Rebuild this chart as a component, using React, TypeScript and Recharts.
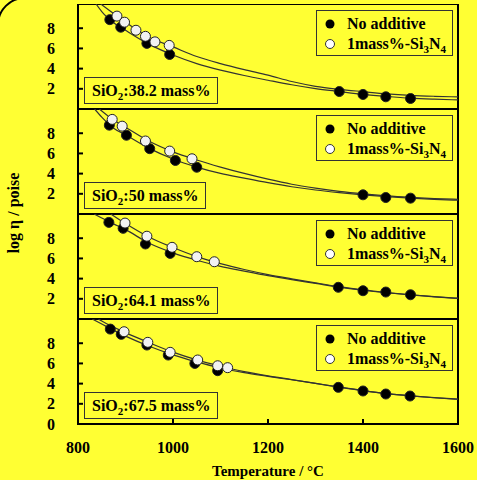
import { ComposedChart, Line, Scatter, XAxis, YAxis, ReferenceArea } from 'recharts';

// measured points: [temperature °C, log viscosity]
const p1NoAdditive = [[867, 8.85], [890, 8.1], [945, 6.5], [993, 5.4], [1350, 1.73], [1400, 1.44], [1448, 1.21], [1500, 1.04]];
const p1Si3N4 = [[882, 9.2], [898, 8.6], [922, 7.8], [942, 7.2], [962, 6.65], [992, 6.3]];
const p1CurveNo = [[838, 10.4], [850, 9.65], [875, 8.55], [900, 7.8], [950, 6.4], [1000, 5.35], [1050, 4.5], [1100, 3.85], [1150, 3.32], [1200, 2.85], [1250, 2.4], [1300, 2.02], [1350, 1.73], [1400, 1.45], [1450, 1.24], [1500, 1.07], [1550, 0.97], [1600, 0.9]];
const p1CurveSi = [[848, 10.4], [875, 9.45], [900, 8.6], [950, 7.1], [1000, 6.15], [1050, 5.2], [1100, 4.5], [1150, 3.9], [1200, 3.35], [1250, 2.72], [1300, 2.25], [1350, 1.95], [1400, 1.72], [1450, 1.5], [1500, 1.35], [1550, 1.26], [1600, 1.2]];

const p2NoAdditive = [[866, 8.8], [902, 7.8], [951, 6.47], [1005, 5.3], [1050, 4.63], [1400, 1.9], [1448, 1.63], [1500, 1.57]];
const p2Si3N4 = [[872, 9.37], [893, 8.7], [942, 7.23], [993, 6.23], [1040, 5.47]];
const p2CurveNo = [[835, 10.4], [850, 9.6], [875, 8.5], [900, 7.85], [950, 6.5], [1000, 5.45], [1050, 4.65], [1100, 4.02], [1150, 3.55], [1200, 3.1], [1250, 2.7], [1300, 2.38], [1350, 2.12], [1400, 1.9], [1450, 1.72], [1500, 1.57], [1550, 1.45], [1600, 1.36]];
const p2CurveSi = [[845, 10.4], [875, 9.3], [900, 8.6], [950, 7.2], [1000, 6.15], [1050, 5.35], [1100, 4.65], [1150, 4.02], [1200, 3.45], [1250, 2.95], [1300, 2.57], [1350, 2.25], [1400, 2.0], [1450, 1.8], [1500, 1.65], [1550, 1.53], [1600, 1.45]];

const p3NoAdditive = [[865, 9.57], [895, 8.98], [942, 7.43], [994, 6.5], [1348, 3.14], [1400, 2.8], [1448, 2.67], [1500, 2.4]];
const p3Si3N4 = [[899, 9.5], [945, 8.2], [998, 7.1], [1050, 6.17], [1087, 5.67]];
const p3CurveNo = [[834, 10.4], [850, 10.0], [875, 9.42], [900, 8.85], [950, 7.5], [1000, 6.55], [1050, 5.82], [1100, 5.22], [1150, 4.75], [1200, 4.3], [1250, 3.9], [1300, 3.53], [1350, 3.15], [1400, 2.85], [1450, 2.6], [1500, 2.38], [1550, 2.2], [1600, 2.04]];
const p3CurveSi = [[869, 10.4], [900, 9.45], [950, 8.1], [1000, 7.08], [1050, 6.18], [1100, 5.48], [1150, 4.9], [1200, 4.4], [1250, 3.98], [1300, 3.58], [1350, 3.2], [1400, 2.88], [1450, 2.62], [1500, 2.4], [1550, 2.21], [1600, 2.06]];

const p4NoAdditive = [[868, 9.4], [891, 8.88], [945, 7.82], [990, 6.83], [1046, 6.0], [1094, 5.28], [1348, 3.63], [1400, 3.27], [1448, 2.97], [1499, 2.77]];
const p4Si3N4 = [[897, 9.14], [947, 8.09], [994, 7.1], [1052, 6.34], [1094, 5.77], [1115, 5.58]];
const p4CurveNo = [[830, 10.4], [850, 9.9], [900, 8.7], [950, 7.7], [1000, 6.85], [1050, 6.15], [1100, 5.55], [1150, 5.08], [1200, 4.72], [1250, 4.38], [1300, 4.02], [1350, 3.65], [1400, 3.3], [1450, 3.0], [1500, 2.78], [1550, 2.6], [1600, 2.45]];
const p4CurveSi = [[843, 10.4], [850, 10.2], [900, 9.05], [950, 8.05], [1000, 7.12], [1050, 6.35], [1100, 5.72], [1150, 5.18], [1200, 4.76], [1250, 4.4], [1300, 4.03], [1350, 3.66], [1400, 3.31], [1450, 3.01], [1500, 2.79], [1550, 2.61], [1600, 2.46]];

const sio2Labels = ['38.2', '50', '64.1', '67.5'];
const xTicks = [800, 1000, 1200, 1400, 1600];
const yTicks = [2, 4, 6, 8];
const yTicksBottom = [0, 2, 4, 6, 8];

const FONT = '"Liberation Serif", "Times New Roman", serif';
const BG = '#ffff33';
const PANEL_H = 105;
const PANEL_TOPS = [4, 109, 214, 319];

const toPts = (arr: number[][]) => arr.map(([t, v]) => ({ t, v }));

const YTick = (props: any) => {
  const { x, y, payload } = props;
  return (
    <g>
      <line x1={x} x2={x + 5} y1={y} y2={y} stroke="#000" strokeWidth={2} />
      <text x={x - 23} y={y} dy="0.35em" textAnchor="end" fontFamily={FONT} fontWeight="bold" fontSize={16} fill="#000">
        {payload.value}
      </text>
    </g>
  );
};

const XTick = (props: any) => {
  const { x, y, payload } = props;
  const inner = payload.value > 800 && payload.value < 1600;
  return (
    <g>
      {inner && <line x1={x} x2={x} y1={y} y2={y - 5} stroke="#000" strokeWidth={2} />}
      <text x={x} y={y + 29} textAnchor="middle" fontFamily={FONT} fontWeight="bold" fontSize={16} fill="#000">
        {payload.value}
      </text>
    </g>
  );
};

const Dot = ({ cx, cy, fill }: any) => (
  <circle cx={cx} cy={cy} r={5} fill={fill} stroke="#222" strokeWidth={1} />
);

const LegendBox = () => (
  <div style={{
    position: 'absolute', left: 316, top: 6,
    border: '1px solid #333', width: 137, height: 46, paddingTop: 3, boxSizing: 'border-box',
    fontFamily: FONT, fontWeight: 'bold', fontSize: 16, lineHeight: '20px', color: '#000',
  }}>
    <div style={{ display: 'flex', alignItems: 'center', height: 20 }}>
      <svg width={30} height={20}><circle cx={13} cy={10} r={4.5} fill="#000" /></svg>
      <span>No additive</span>
    </div>
    <div style={{ display: 'flex', alignItems: 'center', height: 20 }}>
      <svg width={30} height={20}><circle cx={13} cy={10} r={4.5} fill="#fff" stroke="#333" strokeWidth={1} /></svg>
      <span style={{ lineHeight: '20px' }}>1mass%-Si<sub style={{ fontSize: 11, lineHeight: 0 }}>3</sub>N<sub style={{ fontSize: 11, lineHeight: 0 }}>4</sub></span>
    </div>
  </div>
);

interface PanelProps {
  top: number;
  sio2: string;
  noAdd: number[][];
  si3n4: number[][];
  curveNo: number[][];
  curveSi: number[][];
  bottom?: boolean;
}

const Panel = ({ top, sio2, noAdd, si3n4, curveNo, curveSi, bottom }: PanelProps) => (
  <div style={{ position: 'absolute', left: 0, top }}>
    <ComposedChart width={477} height={bottom ? PANEL_H + 56 : PANEL_H} margin={{ top: 0, right: 19, bottom: 0, left: 0 }}>
      <XAxis
        type="number"
        dataKey="t"
        domain={[800, 1600]}
        ticks={xTicks}
        hide={!bottom}
        height={56}
        axisLine={false}
        tickLine={false}
        tickSize={0}
        tickMargin={0}
        tick={<XTick />}
        interval={0}
        label={{ value: 'Temperature / °C', position: 'insideBottom', offset: 4, fontFamily: FONT, fontWeight: 'bold', fontSize: 15, fill: '#000' }}
      />
      <YAxis
        type="number"
        dataKey="v"
        domain={[0, 10.4]}
        ticks={bottom ? yTicksBottom : yTicks}
        width={78}
        axisLine={false}
        tickLine={false}
        tickSize={0}
        tickMargin={0}
        tick={<YTick />}
        interval={0}
      />
      <ReferenceArea x1={800} x2={1600} y1={0} y2={10.4} fill="none" fillOpacity={0} stroke="#000" strokeWidth={2} strokeOpacity={1} />
      <Line data={toPts(curveSi)} dataKey="v" type="monotone" dot={false} stroke="#333" strokeWidth={1.2} isAnimationActive={false} />
      <Line data={toPts(curveNo)} dataKey="v" type="monotone" dot={false} stroke="#333" strokeWidth={1.2} isAnimationActive={false} />
      <Scatter data={toPts(noAdd)} dataKey="v" fill="#000" shape={<Dot />} isAnimationActive={false} />
      <Scatter data={toPts(si3n4)} dataKey="v" fill="#f2f2f2" shape={<Dot />} isAnimationActive={false} />
    </ComposedChart>
    <LegendBox />
    <div style={{
      position: 'absolute', left: 84, top: 73, height: 27, padding: '0 7px', boxSizing: 'border-box',
      border: '1px solid #333', fontFamily: FONT, fontWeight: 'bold', fontSize: 16, lineHeight: '25px',
      color: '#000', whiteSpace: 'nowrap',
    }}>
      SiO<sub style={{ fontSize: 11, lineHeight: 0 }}>2</sub>:{sio2} mass%
    </div>
  </div>
);

export default function App() {
  const panels = [
    { noAdd: p1NoAdditive, si3n4: p1Si3N4, curveNo: p1CurveNo, curveSi: p1CurveSi },
    { noAdd: p2NoAdditive, si3n4: p2Si3N4, curveNo: p2CurveNo, curveSi: p2CurveSi },
    { noAdd: p3NoAdditive, si3n4: p3Si3N4, curveNo: p3CurveNo, curveSi: p3CurveSi },
    { noAdd: p4NoAdditive, si3n4: p4Si3N4, curveNo: p4CurveNo, curveSi: p4CurveSi },
  ];
  return (
    <div style={{ position: 'fixed', left: 0, top: 0, width: 477, height: 480, background: BG, overflow: 'hidden' }}>
      <div style={{ position: 'absolute', left: -3, top: -3, width: 700, height: 700, border: '2px solid #000', borderRadius: 28 }} />
      {panels.map((p, i) => (
        <Panel key={i} top={PANEL_TOPS[i]} sio2={sio2Labels[i]} bottom={i === 3} {...p} />
      ))}
      <div style={{
        position: 'absolute', left: 14, top: 213, transform: 'translate(-50%, -50%) rotate(-90deg)',
        fontFamily: FONT, fontWeight: 'bold', fontSize: 16, whiteSpace: 'nowrap', color: '#000',
      }}>
        log η / poise
      </div>
    </div>
  );
}
